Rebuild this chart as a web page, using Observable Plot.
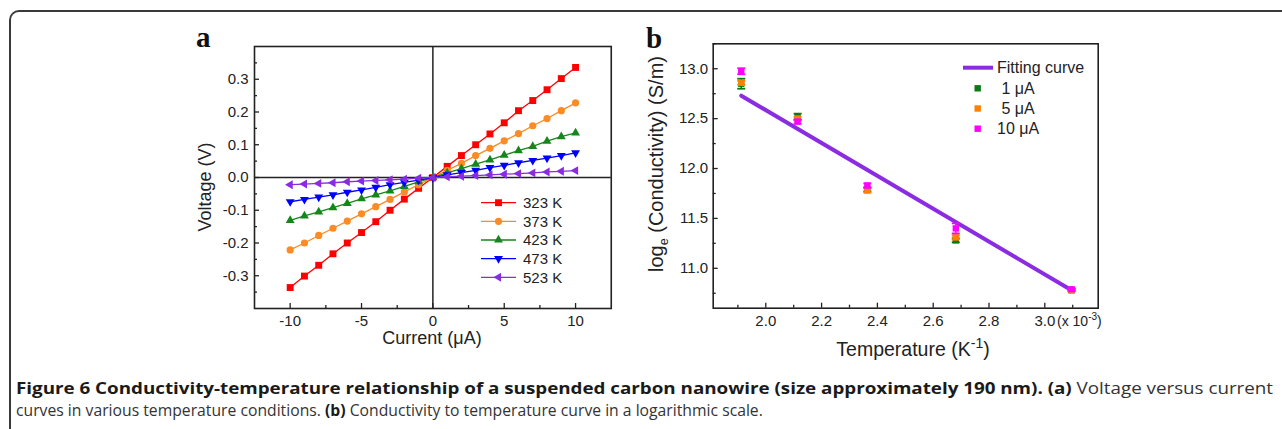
<!DOCTYPE html>
<html><head><meta charset="utf-8">
<script src="https://cdn.jsdelivr.net/npm/d3@7"></script>
<script src="https://cdn.jsdelivr.net/npm/@observablehq/plot@0.6"></script>
<style>
html,body{margin:0;padding:0;background:#fff;}
#root{position:relative;width:1282px;height:429px;overflow:hidden;background:#fff;font-family:"Liberation Sans",Arial,sans-serif;}
#border{position:absolute;left:9px;top:10px;width:1400px;height:600px;border-top:2px solid #3a3a3a;border-left:2px solid #3a3a3a;border-top-left-radius:10px;}
</style></head>
<body><div id="root"><div id="border"></div></div>
<script>
// ---------- Panel a data ----------
const current = [-10,-9,-8,-7,-6,-5,-4,-3,-2,-1,0,1,2,3,4,5,6,7,8,9,10];
const v323 = [-0.336,-0.301,-0.268,-0.233,-0.200,-0.168,-0.135,-0.100,-0.066,-0.033,0.000,0.034,0.067,0.100,0.133,0.167,0.204,0.235,0.268,0.302,0.336];
const v373 = [-0.221,-0.200,-0.177,-0.155,-0.133,-0.111,-0.089,-0.067,-0.044,-0.022,0.000,0.022,0.043,0.067,0.089,0.112,0.134,0.158,0.180,0.204,0.228];
const v423 = [-0.131,-0.117,-0.105,-0.092,-0.079,-0.065,-0.053,-0.041,-0.027,-0.013,0.000,0.014,0.027,0.041,0.054,0.068,0.082,0.095,0.111,0.125,0.136];
const v473 = [-0.074,-0.067,-0.060,-0.053,-0.045,-0.038,-0.030,-0.022,-0.015,-0.008,0.000,0.008,0.015,0.022,0.030,0.037,0.045,0.052,0.059,0.067,0.075];
const v523 = [-0.022,-0.020,-0.018,-0.016,-0.013,-0.011,-0.009,-0.007,-0.005,-0.002,0.000,0.002,0.004,0.006,0.008,0.010,0.012,0.014,0.017,0.019,0.021];
const namesA = ["323 K","373 K","423 K","473 K","523 K"];
const valuesA = [v323, v373, v423, v473, v523];
const xTicksA = [-10,-5,0,5,10];
const xMinorA = [-7.5,-2.5,2.5,7.5];
const yTicksA = [-0.3,-0.2,-0.1,0.0,0.1,0.2,0.3];
const yMinorA = [-0.35,-0.25,-0.15,-0.05,0.05,0.15,0.25,0.35];

// ---------- Panel b data ----------
const tempInv = [1.912, 2.114, 2.364, 2.681, 3.096];
const cond1 = [12.85, 12.52, 11.79, 11.28, 10.78];
const err1  = [0.05, 0.03, 0.02, 0.02, 0.01];
const cond5 = [12.86, 12.50, 11.78, 11.31, 10.78];
const err5  = [0.02, 0.02, 0.02, 0.02, 0.01];
const cond10 = [12.975, 12.47, 11.83, 11.40, 10.79];
const err10  = [0.03, 0.02, 0.02, 0.05, 0.01];
const namesB = [" 1 \u03bcA", " 5 \u03bcA", "10 \u03bcA"];
const fitX = [1.912, 3.096];
const fitY = [12.73, 10.78];
const xTicksB = [2.0, 2.2, 2.4, 2.6, 2.8, 3.0];
const xMinorB = [1.9, 2.1, 2.3, 2.5, 2.7, 2.9, 3.1];
const yTicksB = [11.0, 11.5, 12.0, 12.5, 13.0];
const yMinorB = [10.75, 11.25, 11.75, 12.25, 12.75, 13.25];

// ---------- styles ----------
const colorsA = ["#ff0000", "#fb8b24", "#15861a", "#0000ff", "#8a2be2"];
const symbolsA = ["square", "circle", "triangle", "triangle", "triangle"];
const rotA = [0, 0, 0, 180, -90];
const radA = [3.9, 3.6, 3.3, 3.3, 3.3];
const colorsB = ["#0b7a12", "#ff8000", "#ff00ff"];
const fitColor = "#8b2be2";
const FONT = "'Liberation Sans', Arial, sans-serif";

const root = document.getElementById("root");

const capSymbol = {draw(ctx, size) { const w = Math.sqrt(size / Math.PI); ctx.moveTo(-w, 0); ctx.lineTo(w, 0); }};

// ---------- Panel a ----------
const rowsA = namesA.map((n, k) => current.map((c, i) => ({c, v: valuesA[k][i], n})));
const marksA = [
  Plot.ruleX([0], {stroke: "#222", strokeWidth: 1.5}),
  Plot.ruleY([0], {stroke: "#222", strokeWidth: 1.5}),
];
rowsA.forEach((rows, k) => {
  marksA.push(Plot.line(rows, {x: "c", y: "v", stroke: colorsA[k], strokeWidth: 1.3}));
  marksA.push(Plot.dot(rows, {x: "c", y: "v", symbol: symbolsA[k], rotate: rotA[k], r: radA[k], fill: colorsA[k], stroke: "none"}));
});
marksA.push(
  Plot.frame({stroke: "#222", strokeWidth: 1.6}),
  Plot.axisX({anchor: "bottom", ticks: xTicksA, tickSize: 0, tickPadding: 7, tickFormat: d => String(d), label: null, fontSize: 15}),
  Plot.axisX({anchor: "bottom", ticks: xTicksA, tickSize: -5, tickFormat: () => "", label: null, strokeWidth: 1.3}),
  Plot.axisX({anchor: "bottom", ticks: xMinorA, tickSize: -3, tickFormat: () => "", label: null, strokeWidth: 1.3}),
  Plot.axisY({anchor: "left", ticks: yTicksA, tickSize: 0, tickPadding: 6, tickFormat: d => d.toFixed(1), label: null, fontSize: 15}),
  Plot.axisY({anchor: "left", ticks: yTicksA, tickSize: -5, tickFormat: () => "", label: null, strokeWidth: 1.3}),
  Plot.axisY({anchor: "left", ticks: yMinorA, tickSize: -3, tickFormat: () => "", label: null, strokeWidth: 1.3})
);
const plotA = Plot.plot({
  width: 440, height: 340,
  marginLeft: 74, marginRight: 9.25, marginTop: 26, marginBottom: 52,
  x: {domain: [-12.5, 12.5]},
  y: {domain: [-0.4, 0.4]},
  style: {fontFamily: FONT, fontSize: "15px", color: "#222", background: "transparent", overflow: "visible"},
  marks: marksA
});
plotA.style.position = "absolute"; plotA.style.left = "180px"; plotA.style.top = "20px";
root.appendChild(plotA);

// ---------- Panel b ----------
const condB = [cond1, cond5, cond10];
const errB = [err1, err5, err10];
const rowsB = condB.map((vals, k) => tempInv.map((t, i) => ({t, y: vals[i], lo: vals[i] - errB[k][i], hi: vals[i] + errB[k][i]})));
const fitRows = fitX.map((x, i) => ({x, y: fitY[i]}));
const marksB = [
  Plot.line(fitRows, {x: "x", y: "y", stroke: fitColor, strokeWidth: 4})
];
rowsB.forEach((rows, k) => {
  marksB.push(Plot.ruleX(rows, {x: "t", y1: "lo", y2: "hi", stroke: colorsB[k], strokeWidth: 1.5}));
  marksB.push(Plot.dot(rows, {x: "t", y: "lo", symbol: capSymbol, r: 4, fill: "none", stroke: colorsB[k], strokeWidth: 1.8}));
  marksB.push(Plot.dot(rows, {x: "t", y: "hi", symbol: capSymbol, r: 4, fill: "none", stroke: colorsB[k], strokeWidth: 1.8}));
  marksB.push(Plot.dot(rows, {x: "t", y: "y", symbol: "square", r: 3.6, fill: colorsB[k], stroke: "none"}));
});
marksB.push(
  Plot.frame({stroke: "#222", strokeWidth: 1.6}),
  Plot.axisX({anchor: "bottom", ticks: xTicksB, tickSize: 0, tickPadding: 7, tickFormat: d => d.toFixed(1), label: null, fontSize: 15}),
  Plot.axisX({anchor: "bottom", ticks: xTicksB, tickSize: -5, tickFormat: () => "", label: null, strokeWidth: 1.3}),
  Plot.axisX({anchor: "bottom", ticks: xMinorB, tickSize: -3, tickFormat: () => "", label: null, strokeWidth: 1.3}),
  Plot.axisY({anchor: "left", ticks: yTicksB, tickSize: 0, tickPadding: 5, tickFormat: d => d.toFixed(1), label: null, fontSize: 15}),
  Plot.axisY({anchor: "left", ticks: yTicksB, tickSize: -5, tickFormat: () => "", label: null, strokeWidth: 1.3}),
  Plot.axisY({anchor: "left", ticks: yMinorB, tickSize: -3, tickFormat: () => "", label: null, strokeWidth: 1.3})
);
const plotB = Plot.plot({
  width: 470, height: 340,
  marginLeft: 72.7, marginRight: 12.3, marginTop: 23.3, marginBottom: 52.3,
  x: {domain: [1.8115, 3.1914]},
  y: {domain: [10.6, 13.25]},
  style: {fontFamily: FONT, fontSize: "15px", color: "#222", background: "transparent", overflow: "visible"},
  marks: marksB
});
plotB.style.position = "absolute"; plotB.style.left = "640px"; plotB.style.top = "20px";
root.appendChild(plotB);

// ---------- Overlay texts & legends ----------
const svg = d3.select(root).append("svg")
  .attr("width", 1282).attr("height", 429)
  .style("position", "absolute").style("left", "0px").style("top", "0px")
  .style("font-family", FONT).attr("fill", "#222");

// panel letters
svg.append("text").attr("x", 196).attr("y", 47).text("a")
  .style("font-family", "'Liberation Serif', 'DejaVu Serif', serif").style("font-weight", "bold").style("font-size", "29px").attr("fill", "#111");
svg.append("text").attr("x", 646).attr("y", 48).text("b")
  .style("font-family", "'Liberation Serif', 'DejaVu Serif', serif").style("font-weight", "bold").style("font-size", "29px").attr("fill", "#111");

// axis titles a
svg.append("text").attr("transform", "translate(211,187) rotate(-90)").attr("text-anchor", "middle")
  .style("font-size", "18px").text("Voltage (V)");
svg.append("text").attr("x", 432).attr("y", 344).attr("text-anchor", "middle")
  .style("font-size", "18px").text("Current (\u03bcA)");

// legend a
namesA.forEach((n, k) => {
  const y = 202.7 + k * 18.65;
  svg.append("line").attr("x1", 481).attr("x2", 516).attr("y1", y).attr("y2", y).attr("stroke", colorsA[k]).attr("stroke-width", 1.3);
  const sym = {square: d3.symbolSquare, circle: d3.symbolCircle, triangle: d3.symbolTriangle}[symbolsA[k]];
  svg.append("path").attr("d", d3.symbol(sym, Math.PI * radA[k] * radA[k])())
    .attr("transform", `translate(498.5,${y}) rotate(${rotA[k]})`).attr("fill", colorsA[k]);
  svg.append("text").attr("x", 523).attr("y", y + 5.3).style("font-size", "15px").text(n);
});

// axis titles b
const yl = svg.append("text").attr("transform", "translate(663,164) rotate(-90)").attr("text-anchor", "middle").style("font-size", "20px");
yl.append("tspan").text("log");
yl.append("tspan").attr("dy", 5).style("font-size", "12.5px").text("e");
yl.append("tspan").attr("dy", -5).text(" (Conductivity) (S/m)");

const xl = svg.append("text").attr("x", 913).attr("y", 356).attr("text-anchor", "middle").style("font-size", "19.5px");
xl.append("tspan").text("Temperature (K");
xl.append("tspan").attr("dy", -8).style("font-size", "14px").text("-1");
xl.append("tspan").attr("dy", 8).text(")");

const mult = svg.append("text").attr("x", 1057).attr("y", 326).style("font-size", "14px");
mult.append("tspan").text("(x 10");
mult.append("tspan").attr("dy", -6).style("font-size", "10px").text("-3");
mult.append("tspan").attr("dy", 6).text(")");

// legend b
svg.append("line").attr("x1", 963).attr("x2", 993).attr("y1", 67.7).attr("y2", 67.7).attr("stroke", fitColor).attr("stroke-width", 4);
svg.append("text").attr("x", 997).attr("y", 73.3).style("font-size", "16px").text("Fitting curve");
namesB.forEach((n, k) => {
  const y = 88.3 + k * 20.2;
  svg.append("rect").attr("x", 977.7 - 3.2).attr("y", y - 3.2).attr("width", 6.4).attr("height", 6.4).attr("fill", colorsB[k]);
  svg.append("text").attr("x", 997).attr("y", y + 5.6).style("font-size", "16px").style("white-space", "pre").attr("xml:space", "preserve").text(n);
});

// caption (condensed by horizontal scaling of each line)
const captionLines = [
  {y: 393.5, width: 1258, runs: [
    {bold: true, text: "Figure 6 Conductivity-temperature relationship of a suspended carbon nanowire (size approximately 190 nm). (a)"},
    {bold: false, text: " Voltage versus current"}]},
  {y: 415.5, width: 747, runs: [
    {bold: false, text: "curves in various temperature conditions. "},
    {bold: true, text: "(b)"},
    {bold: false, text: " Conductivity to temperature curve in a logarithmic scale."}]}
];
captionLines.forEach(line => {
  const g = svg.append("g");
  const t = g.append("text").attr("x", 0).attr("y", 0)
    .style("font-family", "'Open Sans', 'Noto Sans', sans-serif").style("font-size", "16px")
    .style("white-space", "pre").attr("xml:space", "preserve");
  line.runs.forEach(r => {
    t.append("tspan").style("font-weight", r.bold ? "bold" : "normal").attr("fill", r.bold ? "#1a1a1a" : "#333").text(r.text);
  });
  const w = t.node().getComputedTextLength();
  g.attr("transform", `translate(16,${line.y}) scale(${line.width / w},1)`);
});
</script>
</body></html>
